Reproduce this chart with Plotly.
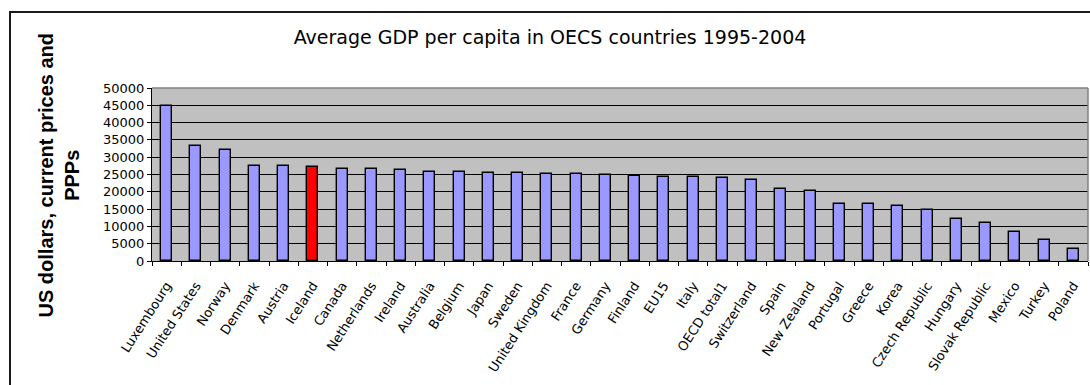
import plotly.graph_objects as go

# Average GDP per capita, 1995-2004 (US dollars, current prices and PPPs)
countries = [
    "Luxembourg", "United States", "Norway", "Denmark", "Austria", "Iceland",
    "Canada", "Netherlands", "Ireland", "Australia", "Belgium", "Japan",
    "Sweden", "United Kingdom", "France", "Germany", "Finland", "EU15",
    "Italy", "OECD total1", "Switzerland", "Spain", "New Zealand", "Portugal",
    "Greece", "Korea", "Czech Republic", "Hungary", "Slovak Republic",
    "Mexico", "Turkey", "Poland",
]
gdp_per_capita = [
    44800, 33300, 32200, 27500, 27500, 27100,
    26600, 26600, 26300, 25800, 25800, 25400,
    25400, 25100, 25100, 25000, 24700, 24300,
    24300, 23900, 23500, 20700, 20300, 16500,
    16500, 16000, 14800, 12100, 10900,
    8500, 6200, 3400,
]
highlight = "Iceland"
y_ticks = [0, 5000, 10000, 15000, 20000, 25000, 30000, 35000, 40000, 45000, 50000]

bar_colors = ["#FF0000" if c == highlight else "#9999FF" for c in countries]

fig = go.Figure(
    go.Bar(
        x=countries,
        y=gdp_per_capita,
        width=0.38,
        marker=dict(color=bar_colors, line=dict(color="#000000", width=1.4)),
        hoverinfo="x+y",
    )
)

W, H = 1090, 385
L, R, T, B = 152, 2, 88, 124
pw, ph = W - L - R, H - T - B


def px_x(x):
    return (x - L) / pw


def px_y(y):
    return (H - B - y) / ph


tick_font = dict(family="DejaVu Sans", size=13, color="#000000")

fig.update_layout(
    width=W,
    height=H,
    margin=dict(l=L, r=R, t=T, b=B),
    paper_bgcolor="#FFFFFF",
    plot_bgcolor="#C0C0C0",
    showlegend=False,
    bargap=0.0,
    title=dict(
        text="Average GDP per capita in OECS countries 1995-2004",
        font=dict(family="DejaVu Sans", size=19, color="#000000"),
        xref="container", x=550 / W, xanchor="center",
        yref="container", y=1 - 37 / H, yanchor="middle",
    ),
    xaxis=dict(
        type="category",
        tickangle=-57,
        tickfont=tick_font,
        ticks="outside",
        tickson="boundaries",
        ticklen=4,
        tickcolor="#000000",
        ticklabelstandoff=11,
        showline=True,
        linecolor="#000000",
        linewidth=1,
        showgrid=False,
        mirror=False,
    ),
    yaxis=dict(
        range=[0, 50000],
        tickvals=y_ticks,
        ticktext=[str(v) for v in y_ticks],
        tickfont=tick_font,
        ticks="outside",
        ticklen=4,
        tickcolor="#000000",
        showline=True,
        linecolor="#000000",
        linewidth=1,
        showgrid=True,
        gridcolor="#000000",
        gridwidth=1,
        zeroline=False,
    ),
)

# Plot-area border on the top and right sides
fig.add_shape(type="line", xref="paper", yref="paper", x0=0, x1=1, y0=1, y1=1,
              line=dict(color="#808080", width=1.5), layer="above")
fig.add_shape(type="line", xref="paper", yref="paper", x0=1, x1=1, y0=0, y1=1,
              line=dict(color="#808080", width=1.5), layer="above")

# Outer chart frame
fig.add_shape(type="rect", xref="paper", yref="paper",
              x0=px_x(10), x1=px_x(W + 20), y0=px_y(H + 20), y1=px_y(12),
              line=dict(color="#1A1A1A", width=2), fillcolor="rgba(0,0,0,0)",
              layer="below")

# Vertical axis caption
fig.add_annotation(
    text="US dollars, current prices and<br>PPPs",
    textangle=-90,
    xref="paper", yref="paper",
    x=px_x(58), y=px_y(175.5),
    xanchor="center", yanchor="middle",
    showarrow=False,
    align="center",
    font=dict(family="Liberation Sans", size=20, color="#000000", weight="bold"),
)

fig.write_html("out.html")
